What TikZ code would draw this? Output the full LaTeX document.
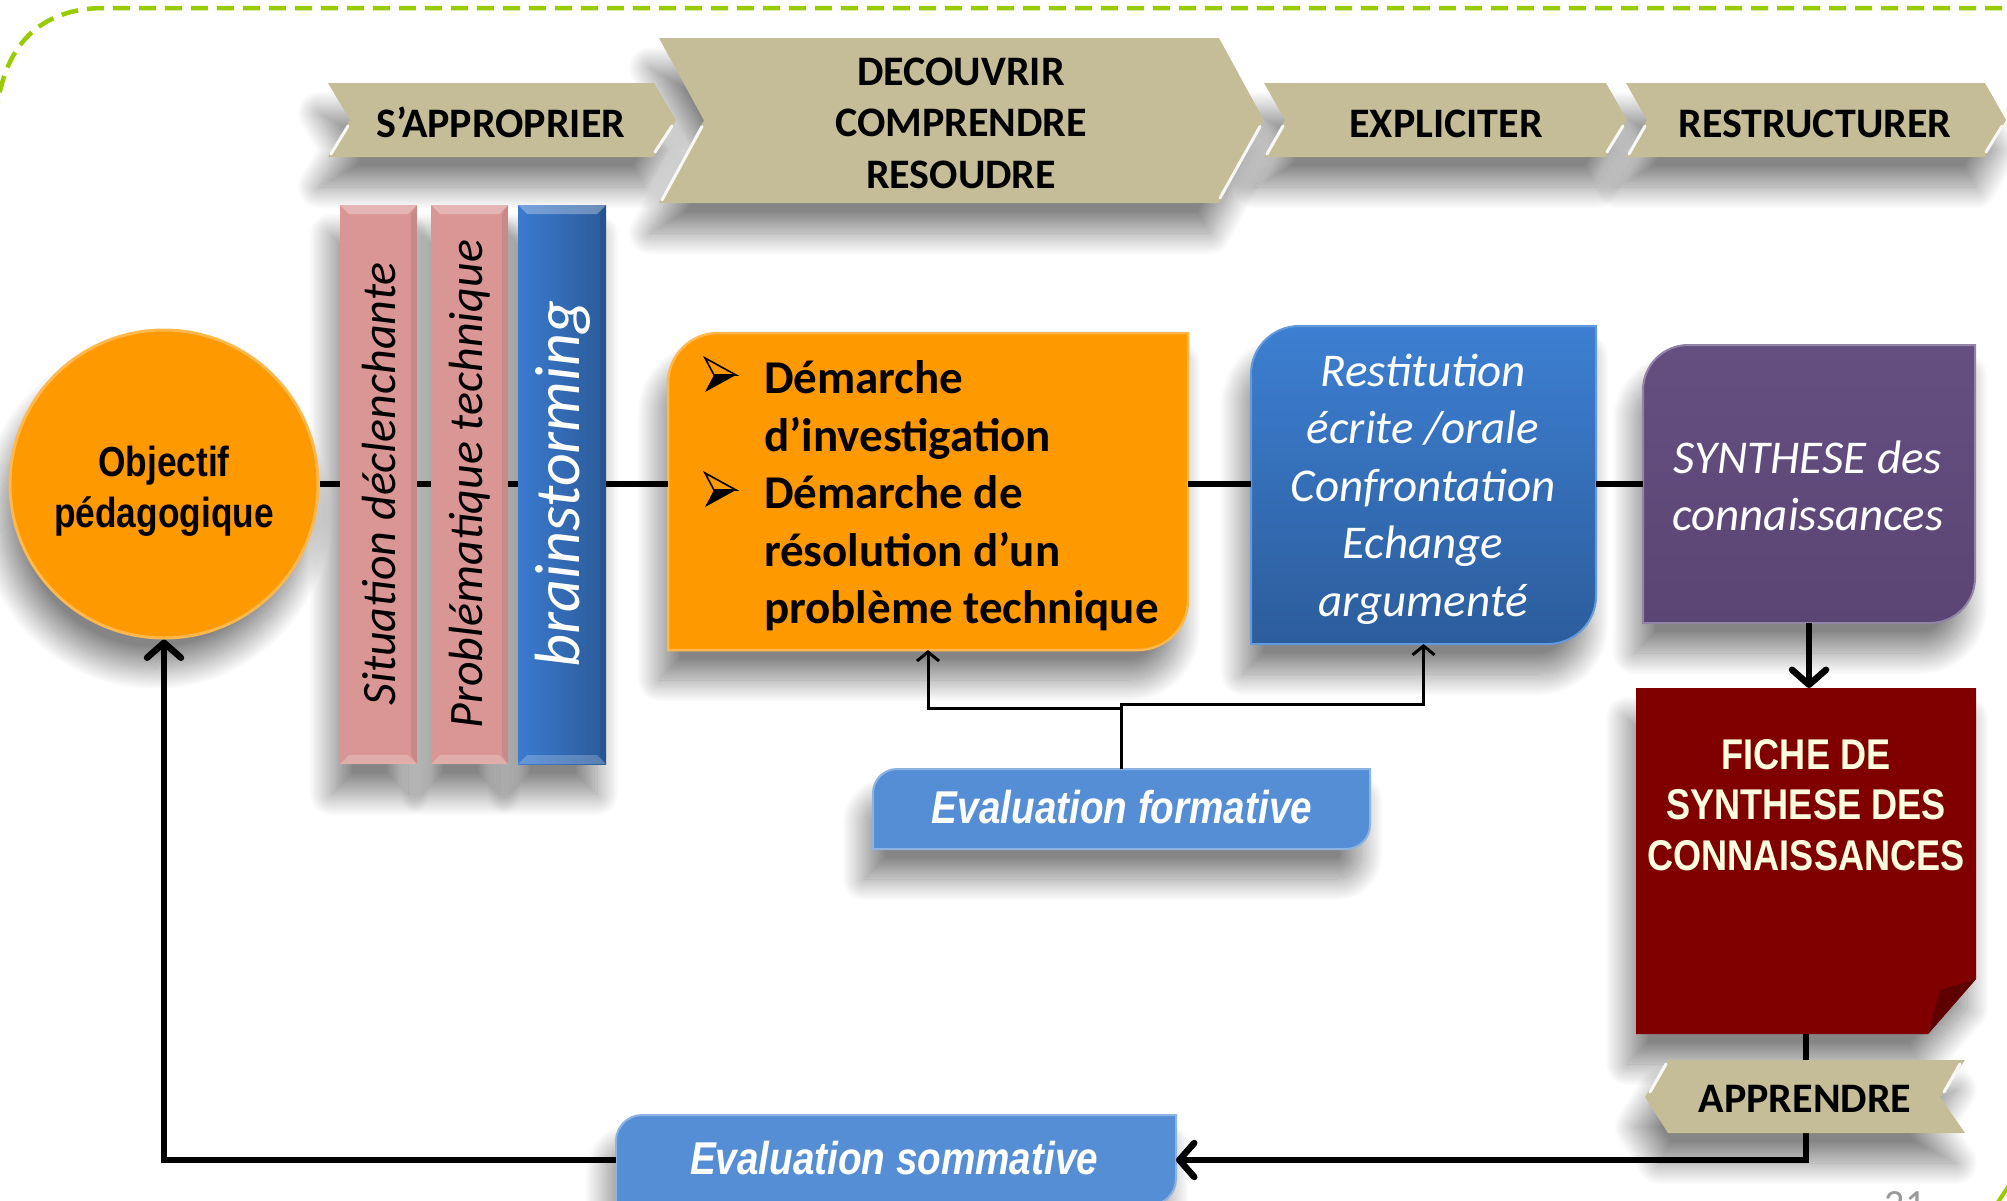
\documentclass[tikz,border=0pt]{standalone}
\usepackage{fontspec}
\setmainfont{Carlito}
\newfontfamily\arialc[FakeStretch=0.84]{Liberation Sans}
\usetikzlibrary{arrows.meta,shadows.blur}
\pgfdeclarelayer{shad}
\pgfsetlayers{shad,main}
\definecolor{chevtan}{HTML}{C4BD97}
\definecolor{pinkbar}{HTML}{D99694}
\definecolor{orng}{HTML}{FF9900}
\definecolor{orngedge}{HTML}{FFB84D}
\definecolor{restTop}{HTML}{3D7FD2}
\definecolor{restBot}{HTML}{2C5D9C}
\definecolor{purpTop}{HTML}{654F81}
\definecolor{purpBot}{HTML}{5A4574}
\definecolor{fichered}{HTML}{800000}
\definecolor{foldred}{HTML}{5E0000}
\definecolor{evalblue}{HTML}{558ED5}
\definecolor{evaledge}{HTML}{8DB3E2}
\definecolor{framegreen}{HTML}{99CC00}
\definecolor{fichetext}{HTML}{FFFFE0}
\definecolor{brainL}{HTML}{3B7BD0}
\definecolor{brainR}{HTML}{2B5A98}
\newcommand\setfs[2]{\fontsize{#1}{#2}\selectfont}
% rounded top-left and bottom-right corners
\newcommand\rdpath[5]{({#1},{#2+#5}) .. controls ({#1},{#2+0.45*#5}) and ({#1+0.45*#5},{#2}) .. ({#1+#5},{#2}) -- ({#3},{#2}) -- ({#3},{#4-#5}) .. controls ({#3},{#4-0.45*#5}) and ({#3-0.45*#5},{#4}) .. ({#3-#5},{#4}) -- ({#1},{#4}) -- cycle}
% chevron: left x, right corner x, top y, bottom y, depth
\newcommand\chevpath[5]{({#1},{#3}) -- ({#2},{#3}) -- ({#2+#5},{(#3+#4)/2}) -- ({#2},{#4}) -- ({#1},{#4}) -- ({#1+#5},{(#3+#4)/2}) -- cycle}
\newcommand\shp[2]{\begin{pgfonlayer}{shad}\path[softshadow] #2;\end{pgfonlayer}\path[#1] #2;}
\newcommand\chevhl[5]{%
  \draw[hl] ({#1+#5-2},{(#3+#4)/2+6}) -- ({#1+3},{#4-3});
  \draw[hl] ({#2+#5-4},{(#3+#4)/2+6}) -- ({#2+1},{#4-5});}
\newcommand\arrbul[1]{%
  \fill[black] (736,{#1-17}) -- (714,{#1-17}) -- (705,{#1}) -- cycle;
  \draw[black, line width=1.6pt, fill=orng] (736,{#1-17}) -- (705,{#1-34}) -- (714,{#1-17}) -- cycle;}
\newcommand\barbev[4]{%
  \fill[white,opacity=.30] (#1,#2) -- (#3,#2) -- ({#3-9},{#2+9}) -- ({#1+9},{#2+9}) -- cycle;
  \fill[white,opacity=.22] (#1,#4) -- (#3,#4) -- ({#3-9},{#4-9}) -- ({#1+9},{#4-9}) -- cycle;
  \fill[black,opacity=.08] (#3,#2) -- (#3,#4) -- ({#3-6},{#4-9}) -- ({#3-6},{#2+9}) -- cycle;}
\begin{document}
\begin{tikzpicture}[x=1pt,y=-1pt,
  softshadow/.style={blur shadow={shadow xshift=-9pt,shadow yshift=-30pt,shadow blur radius=22pt,shadow blur steps=40,shadow opacity=48}},
  hl/.style={white,line width=3pt,opacity=.9,line cap=round},
  anc/.style={inner sep=0pt,outer sep=0pt,draw=none,fill=none},
  txt/.style={inner sep=0pt,outer sep=0pt},
  chevtxt/.style={txt,anchor=base,font=\bfseries\setfs{42}{51.5}},
  thickln/.style={draw=black,line width=6.5pt},
  thinln/.style={draw=black,line width=3pt},
  bigtip/.style={-{Straight Barb[length=15pt,width=34pt,round]}},
  smalltip/.style={-{Straight Barb[length=9pt,width=22pt]}},
  evaltxt/.style={txt,anchor=base,text=white,font=\arialc\bfseries\itshape\setfs{46}{50}}]
\useasboundingbox (0,0) rectangle (2007,1200);
\clip (0,0) rectangle (2007,1200);

% dashed frame
\draw[framegreen,line width=4.5pt,dash pattern=on 17pt off 9pt] (-4,118) .. controls (2,45) and (40,8) .. (105,8) -- (2015,8);
\draw[framegreen,line width=4pt] (1998,1202) -- (2010,1184);

% chevrons on top
\shp{fill=chevtan}{\chevpath{328}{654}{83}{157}{22}}
\chevhl{328}{654}{83}{157}{22}
\shp{fill=chevtan}{\chevpath{659}{1219}{38}{203}{45}}
\chevhl{659}{1219}{38}{203}{45}
\shp{fill=chevtan}{\chevpath{1264}{1606}{83}{157}{21}}
\chevhl{1264}{1606}{83}{157}{21}
\shp{fill=chevtan}{\chevpath{1626}{1985}{83}{157}{21}}
\chevhl{1626}{1985}{83}{157}{21}

% vertical bars
\shp{fill=pinkbar}{(340,205) rectangle (417,764)}
\barbev{340}{205}{417}{764}
\shp{fill=pinkbar}{(431,205) rectangle (508,764)}
\barbev{431}{205}{508}{764}
\shp{left color=brainL,right color=brainR}{(518,205) rectangle (606,764)}
\barbev{518}{205}{606}{764}

% circle
\begin{pgfonlayer}{shad}\path[softshadow] (164,484) circle[radius=154];\end{pgfonlayer}
\node[circle,fill=orng,draw=orngedge,line width=3pt,minimum size=308pt,inner sep=0pt] (obj) at (164,484) {};

% boxes
\shp{fill=orng,draw=orngedge,line width=2.5pt}{\rdpath{668}{333}{1188}{650}{50}}
\shp{top color=restTop,bottom color=restBot,draw=restTop!80!white,line width=2pt}{\rdpath{1251}{326}{1596}{644}{48}}
\shp{top color=purpTop,bottom color=purpBot,draw=purpTop!70!white,line width=2pt}{\rdpath{1643}{345}{1975}{623}{45}}
\shp{fill=fichered}{(1636,688) -- (1976,688) -- (1976,979) -- (1928,1034) -- (1636,1034) -- cycle}
\fill[foldred] (1976,979) -- (1940,990) -- (1928,1034) -- cycle;
\shp{fill=evalblue,draw=evaledge,line width=2pt}{\rdpath{873}{769}{1370}{849}{24}}
\shp{fill=evalblue,draw=evaledge,line width=2pt}{\rdpath{616}{1115}{1176}{1205}{26}}

% anchor nodes
\node[anc,minimum width=77pt,minimum height=559pt] (sit) at (378.5,484) {};
\node[anc,minimum width=77pt,minimum height=559pt] (prob) at (469.5,484) {};
\node[anc,minimum width=88pt,minimum height=559pt] (brain) at (562,484) {};
\node[anc,minimum width=520pt,minimum height=317pt] (dem) at (928,491.5) {};
\node[anc,minimum width=345pt,minimum height=318pt] (rest) at (1423.5,485) {};
\node[anc,minimum width=332pt,minimum height=278pt] (synth) at (1809,484) {};
\node[anc,minimum width=340pt,minimum height=346pt] (fiche) at (1806,861) {};
\node[anc,minimum width=497pt,minimum height=80pt] (form) at (1121.5,809) {};
\node[anc,minimum width=560pt,minimum height=90pt] (somm) at (896,1160) {};

% connectors
\draw[thickln] (obj.east) -- (obj.east -| sit.west);
\draw[thickln] (sit.east) -- (sit.east -| prob.west);
\draw[thickln] (prob.east) -- (prob.east -| brain.west);
\draw[thickln] (brain.east) -- (brain.east -| dem.west);
\draw[thickln] (brain.east -| dem.east) -- (brain.east -| rest.west);
\draw[thickln] (brain.east -| rest.east) -- (brain.east -| synth.west);
\draw[thickln,bigtip] (synth.south) -- (synth.south |- fiche.north);
\draw[thickln,bigtip] (fiche.south) -- (fiche.south |- somm.east) -- (somm.east);
\draw[thickln,bigtip] (somm.west) -| (obj.south);
\draw[thinln,smalltip] (form.north) -- ++(0,-61) -| (dem.south);
\draw[thinln,smalltip] (form.north) -- ++(0,-65) -| (rest.south);

% APPRENDRE chevron (pointing left)
\shp{fill=chevtan}{(1668,1060) -- (1965,1060) -- (1940,1097) -- (1965,1133) -- (1668,1133) -- (1645,1097) -- cycle}
\draw[hl] (1666,1064) -- (1650,1092);
\draw[hl] (1960,1064) -- (1944,1092);

% bullets
\arrbul{392}
\arrbul{507}

% texts
\node[txt,align=center,font=\arialc\bfseries\setfs{42}{51}] (objtxt) at (164,491) {Objectif\\p\'edagogique};
\node[chevtxt] (sapp) at (501,137) {S’APPROPRIER};
\node[txt,align=center,font=\bfseries\setfs{42}{51.5}] (decouv) at (961,123) {DECOUVRIR\\COMPRENDRE\\RESOUDRE};
\node[chevtxt] (expl) at (1446,137) {EXPLICITER};
\node[chevtxt] (restr) at (1815,137) {RESTRUCTURER};
\node[chevtxt] (appr) at (1805,1112) {APPRENDRE};
\node[txt,rotate=90,font=\itshape\setfs{48}{50}] (sittxt) at (379,484) {Situation déclenchante};
\node[txt,rotate=90,font=\itshape\setfs{48}{50}] (probtxt) at (470,484) {Problématique technique};
\node[txt,rotate=90,text=white,font=\itshape\setfs{64}{70}] (braintxt) at (563,484) {brainstorming};
\node[txt,anchor=west,align=left,font=\bfseries\setfs{47}{57.5}] (demtxt) at (764,496) {Démarche\\d’investigation\\Démarche de\\résolution d’un\\problème technique};
\node[txt,align=center,text=white,font=\itshape\setfs{47}{57.5}] (restxt) at (1423,489) {Restitution\\écrite /orale\\Confrontation\\Echange\\argumenté};
\node[txt,align=center,text=white,font=\itshape\setfs{47}{57}] (synthtxt) at (1808,486) {SYNTHESE des\\connaissances};
\node[txt,align=center,text=fichetext,font=\arialc\bfseries\setfs{43}{50.5}] (fichetxt) at (1806,805) {FICHE DE\\SYNTHESE DES\\CONNAISSANCES};
\node[evaltxt] (formtxt) at (1122,823) {Evaluation formative};
\node[evaltxt] (sommtxt) at (894,1174) {Evaluation sommative};
\node[txt,anchor=north,text=gray!80,font=\setfs{40}{44}] (pagenum) at (1905,1192) {21};
\end{tikzpicture}
\end{document}
